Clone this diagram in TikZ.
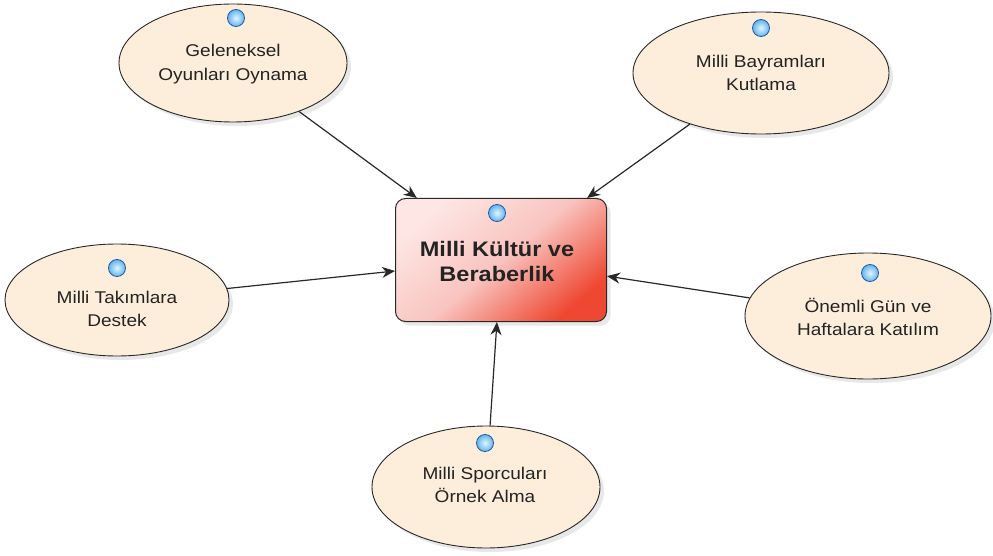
\documentclass[tikz,border=0pt]{standalone}
\usepackage{fontspec}
\setmainfont{Liberation Sans}
\newfontfamily\widefont[FakeStretch=1.12]{Liberation Sans}
\usetikzlibrary{shapes.geometric,arrows.meta,shadows,shadings}
\definecolor{ellfill}{RGB}{253,238,220}
\definecolor{ellline}{RGB}{40,40,40}
\definecolor{boxlight}{RGB}{253,230,228}
\definecolor{boxmid}{RGB}{249,196,192}
\definecolor{boxdark}{RGB}{238,72,50}
\definecolor{bulletin}{RGB}{225,245,255}
\definecolor{bulletc}{RGB}{100,180,235}
\definecolor{bulletrim}{RGB}{30,90,170}
\definecolor{txt}{RGB}{35,35,35}
\tikzset{
  oval/.style={ellipse, draw=ellline, line width=0.9pt, fill=ellfill, inner sep=0pt,
    drop shadow={opacity=0.18, shadow xshift=4pt, shadow yshift=-4pt}},
  ovaltext/.style={align=center, text=txt, font=\widefont\fontsize{17}{23.5}\selectfont},
  mainbox/.style={rectangle, rounded corners=10pt, draw=ellline, line width=1pt,
    top color=boxlight, bottom color=boxdark, middle color=boxmid, shading angle=40,
    drop shadow={opacity=0.18, shadow xshift=4pt, shadow yshift=-4pt}},
  maintext/.style={align=center, text=txt, font=\widefont\fontsize{21}{25}\bfseries\selectfont},
  bullet/.style={circle, minimum size=17pt, inner sep=0pt, draw=bulletrim, line width=0.8pt,
    shading=radial, inner color=bulletin, outer color=bulletc},
  link/.style={draw={rgb,255:red,40;green,40;blue,40}, line width=1.2pt,
    -{Stealth[length=13pt,width=11pt]}}
}
\begin{document}
\begin{tikzpicture}[x=1pt,y=-1pt]
\useasboundingbox (0,0) rectangle (993,556);
\fill[white] (0,0) rectangle (993,556);
% main box
\node[mainbox, minimum width=211pt, minimum height=123pt] (box) at (501,260) {};
\node[bullet] (bbox) at (497,213) {};
\node[maintext] (tbox) at (497,261) {Milli Kültür ve\\Beraberlik};
% ellipses
\node[oval, minimum width=228pt, minimum height=118pt] (geleneksel) at (233,63) {};
\node[bullet] (bgel) at (236,18) {};
\node[ovaltext] (tgel) at (233,64) {Geleneksel\\Oyunları Oynama};

\node[oval, minimum width=256pt, minimum height=122pt] (bayram) at (761,73) {};
\node[bullet] (bbay) at (761,28) {};
\node[ovaltext] (tbay) at (761,73) {Milli Bayramları\\Kutlama};

\node[oval, minimum width=224pt, minimum height=112pt] (takim) at (117,300) {};
\node[bullet] (btak) at (117,268) {};
\node[ovaltext] (ttak) at (117,309) {Milli Takımlara\\Destek};

\node[oval, minimum width=246pt, minimum height=126pt] (onemli) at (868,316) {};
\node[bullet] (bone) at (870,273) {};
\node[ovaltext] (tone) at (868,317) {Önemli Gün ve\\Haftalara Katılım};

\node[oval, minimum width=228pt, minimum height=122pt] (sporcu) at (486,487) {};
\node[bullet] (bspo) at (485,443) {};
\node[ovaltext] (tspo) at (485,485) {Milli Sporcuları\\Örnek Alma};
% connectors
\draw[link] (geleneksel) -- (box);
\draw[link] (bayram) -- (box);
\draw[link] (takim) -- (box);
\draw[link] (onemli) -- (box);
\draw[link] (sporcu) -- (box);
\end{tikzpicture}
\end{document}
